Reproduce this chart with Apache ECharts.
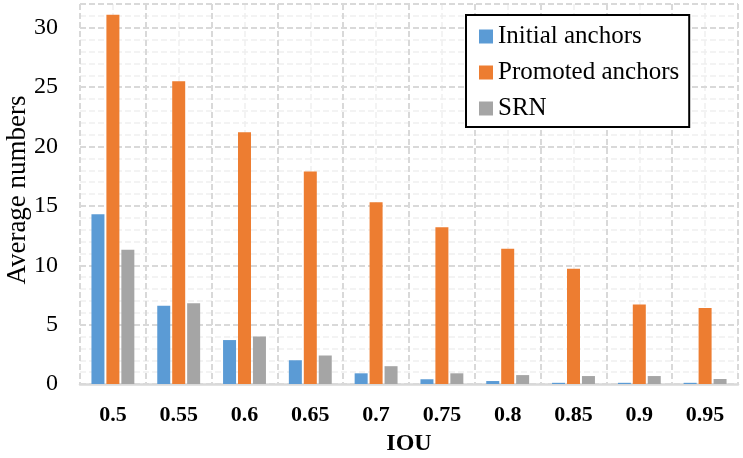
<!DOCTYPE html>
<html>
<head>
<meta charset="utf-8">
<script src="https://cdn.jsdelivr.net/npm/echarts@6/dist/echarts.min.js"></script>
<style>html,body{margin:0;padding:0;background:#fff}#c{width:743px;height:458px}</style>
</head>
<body>
<div id="c"></div>
<script>
const categories = ['0.5','0.55','0.6','0.65','0.7','0.75','0.8','0.85','0.9','0.95'];
const initialAnchors = [14.3, 6.6, 3.7, 2.0, 0.9, 0.4, 0.25, 0.1, 0.1, 0.1];
const promotedAnchors = [31.1, 25.5, 21.2, 17.9, 15.3, 13.2, 11.4, 9.7, 6.7, 6.4];
const srn = [11.3, 6.8, 4.0, 2.4, 1.5, 0.9, 0.75, 0.67, 0.67, 0.42];
const yMax = 32;
const yTitle = 'Average numbers';

const FONT = '"Liberation Serif", "Times New Roman", serif';
const chart = echarts.init(document.getElementById('c'));
const major = '#d9d9d9';
const minor = '#efefef';
chart.setOption({
  animation: false,
  backgroundColor: '#fff',
  grid: {left: 80, right: 5, top: 4, bottom: 74, containLabel: false, outerBoundsMode: 'none'},
  graphic: [{
    type: 'text', x: 18, y: 190, rotation: Math.PI / 2, silent: true,
    style: {text: yTitle, fontFamily: FONT, fontSize: 27, fill: '#000', align: 'center', verticalAlign: 'middle'}
  }],
  legend: {
    orient: 'vertical', left: 466, top: 15,
    backgroundColor: '#fff', borderColor: '#000', borderWidth: 2,
    padding: [9, 10, 6, 13], itemGap: 11,
    itemWidth: 14, itemHeight: 14, icon: 'rect',
    textStyle: {fontFamily: FONT, fontSize: 25, color: '#000'},
    data: ['Initial anchors', 'Promoted anchors', 'SRN']
  },
  xAxis: [{
    type: 'category', data: categories,
    name: 'IOU', nameLocation: 'middle', nameGap: 48,
    nameTextStyle: {fontFamily: FONT, fontSize: 24, fontWeight: 'bold', color: '#000'},
    axisLine: {lineStyle: {color: major, width: 2.5}},
    axisTick: {show: false},
    axisLabel: {fontFamily: FONT, fontSize: 22, fontWeight: 'bold', color: '#000', margin: 20},
    splitLine: {show: true, interval: 0, lineStyle: {color: major, width: 2, type: [6, 3]}}
  }, {
    type: 'value', min: 0, max: 20, interval: 1, position: 'top',
    axisLine: {show: false}, axisTick: {show: false}, axisLabel: {show: false},
    splitLine: {show: true, lineStyle: {color: ['transparent', minor], width: 1.5, type: [6, 3]}}
  }],
  yAxis: [{
    type: 'value', min: 0, max: yMax, interval: 5,
    axisLine: {show: false}, axisTick: {show: false},
    axisLabel: {fontFamily: FONT, fontSize: 24, color: '#000', margin: 22,
      formatter: v => (v % 5 === 0 ? String(v) : '')},
    splitLine: {show: true, lineStyle: {color: major, width: 2, type: [6, 3]}},
    z: 3
  }, {
    type: 'value', min: 0, max: yMax, interval: 1, position: 'right',
    axisLine: {show: false}, axisTick: {show: false}, axisLabel: {show: false},
    splitLine: {show: true, lineStyle: {color: ['transparent', minor, minor, minor, minor], width: 1.5, type: [6, 3]}}
  }],
  series: [
    {name: 'Initial anchors', type: 'bar', data: initialAnchors, barWidth: 13, barGap: '15%', itemStyle: {color: '#5b9bd5'}, z: 5},
    {name: 'Promoted anchors', type: 'bar', data: promotedAnchors, barWidth: 13, barGap: '15%', itemStyle: {color: '#ed7d31'}, z: 5},
    {name: 'SRN', type: 'bar', data: srn, barWidth: 13, barGap: '15%', itemStyle: {color: '#a5a5a5'}, z: 5}
  ]
});
</script>
</body>
</html>
